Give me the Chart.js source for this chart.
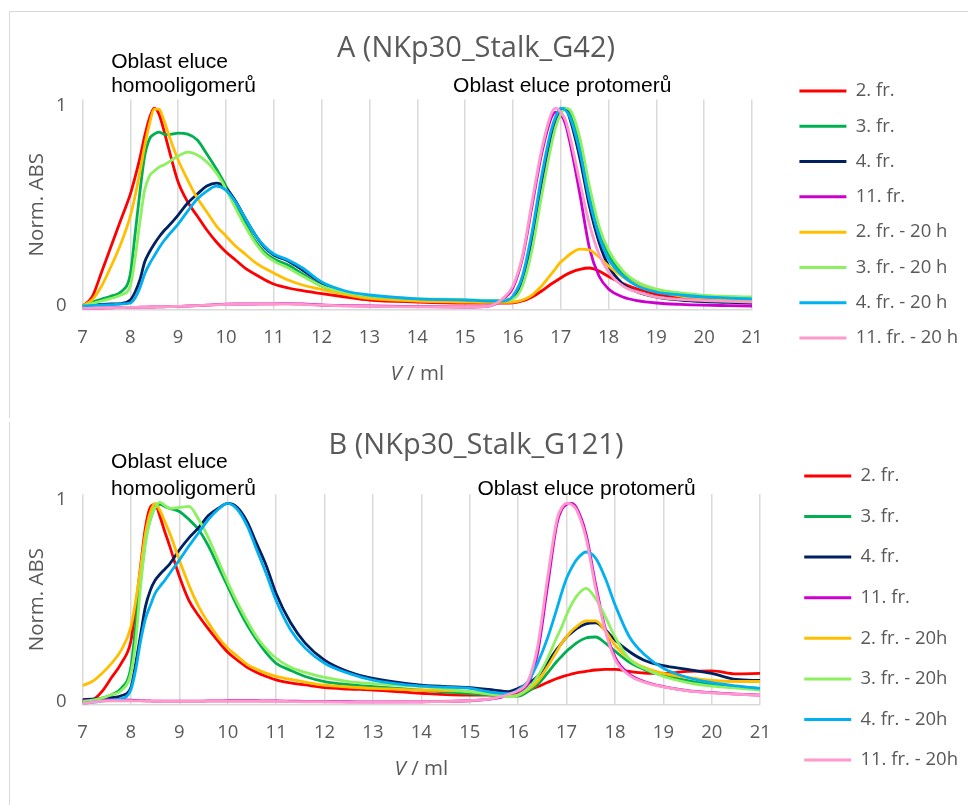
<!DOCTYPE html>
<html>
<head>
<meta charset="utf-8">
<script src="https://cdn.jsdelivr.net/npm/chart.js@4.4.1/dist/chart.umd.min.js"></script>
<style>
  html, body { margin: 0; padding: 0; background: #fff; overflow: hidden; }
  body { width: 968px; height: 805px; position: relative; }
  .frame { position: absolute; border-left: 1px solid #d9d9d9; }
  #frameA { left: 9px; top: 11px; width: 959px; height: 406px; border-top: 1px solid #d9d9d9; }
  #frameB { left: 9px; top: 422px; width: 959px; height: 383px; }
  canvas { position: absolute; left: -16px; }
  #chartA { top: 12px; }
  #chartB { top: 422px; }
</style>
</head>
<body>
<div class="frame" id="frameA"></div>
<div class="frame" id="frameB"></div>
<canvas id="chartA" width="984" height="405"></canvas>
<canvas id="chartB" width="984" height="383"></canvas>
<script>
const volumes = [7, 7.2, 7.4, 7.6, 7.8, 8.0, 8.1, 8.2, 8.3, 8.4, 8.5, 8.6, 8.7, 8.8,
  9.0, 9.2, 9.4, 9.6, 9.8, 10.0, 10.2, 10.4, 10.6, 10.8, 11.0, 11.3, 11.6, 12.0, 12.5, 13, 14,
  15, 15.5, 15.8, 16.0, 16.2, 16.4, 16.6, 16.8, 16.9, 17.0, 17.1, 17.2, 17.4, 17.6, 17.8,
  18.0, 18.3, 18.6, 19.0, 19.5, 20, 20.5, 21];

const yTicks = [0, 1];
const colors = ['#ff0000', '#00b050', '#002060', '#cc00cc', '#ffbf00', '#8cf060', '#00b0f0', '#ff99cc'];

// ---- A (NKp30_Stalk_G42) ----
const fractionsA = ['2. fr.', '3. fr.', '4. fr.', '11. fr.', '2. fr. - 20 h', '3. fr. - 20 h', '4. fr. - 20 h', '11. fr. - 20 h'];

const aFr2 = [0, 0.045, 0.17, 0.30, 0.43, 0.56, 0.645, 0.74, 0.85, 0.94, 0.99, 0.96, 0.88, 0.79,
  0.62, 0.52, 0.45, 0.38, 0.32, 0.27, 0.23, 0.19, 0.16, 0.133, 0.11, 0.09, 0.077, 0.062, 0.045, 0.03, 0.02,
  0.015, 0.015, 0.015, 0.016, 0.025, 0.045, 0.075, 0.11, 0.125, 0.14, 0.155, 0.167, 0.183, 0.19, 0.175,
  0.148, 0.112, 0.085, 0.06, 0.043, 0.032, 0.026, 0.022];
const aFr3 = [0, 0.02, 0.035, 0.05, 0.07, 0.16, 0.36, 0.57, 0.75, 0.835, 0.86, 0.87, 0.86, 0.858,
  0.865, 0.86, 0.83, 0.76, 0.685, 0.60, 0.51, 0.415, 0.33, 0.27, 0.235, 0.205, 0.16, 0.10, 0.065, 0.045, 0.032,
  0.028, 0.025, 0.028, 0.04, 0.12, 0.32, 0.60, 0.84, 0.93, 0.98, 0.99, 0.96, 0.80, 0.57, 0.38,
  0.26, 0.16, 0.11, 0.08, 0.06, 0.05, 0.045, 0.04];
const aFr4 = [0, 0.005, 0.008, 0.01, 0.012, 0.03, 0.07, 0.13, 0.22, 0.27, 0.31, 0.345, 0.375, 0.40,
  0.455, 0.515, 0.56, 0.60, 0.615, 0.59, 0.525, 0.44, 0.36, 0.295, 0.255, 0.225, 0.18, 0.115, 0.07, 0.05, 0.033,
  0.028, 0.025, 0.027, 0.04, 0.13, 0.34, 0.62, 0.86, 0.94, 0.985, 0.985, 0.93, 0.74, 0.50, 0.32,
  0.20, 0.11, 0.07, 0.045, 0.03, 0.022, 0.018, 0.015];
const aFr11 = [-0.012, -0.011, -0.01, -0.009, -0.008, -0.007, -0.007, -0.006, -0.006, -0.005, -0.005, -0.004, -0.004, -0.003,
  -0.002, 0, 0.002, 0.004, 0.007, 0.009, 0.01, 0.01, 0.01, 0.011, 0.011, 0.012, 0.01, 0.005, 0.002, 0, -0.003,
  -0.005, 0, 0.035, 0.09, 0.24, 0.50, 0.76, 0.94, 0.97, 0.96, 0.91, 0.81, 0.56, 0.29, 0.15,
  0.085, 0.045, 0.027, 0.015, 0.008, 0.004, 0.002, 0];
const aFr2h = [0, 0.03, 0.10, 0.20, 0.31, 0.45, 0.55, 0.67, 0.80, 0.91, 0.985, 0.985, 0.93, 0.86,
  0.73, 0.63, 0.54, 0.47, 0.40, 0.35, 0.30, 0.26, 0.22, 0.19, 0.165, 0.13, 0.105, 0.083, 0.058, 0.038, 0.025,
  0.02, 0.018, 0.018, 0.02, 0.03, 0.055, 0.10, 0.16, 0.19, 0.22, 0.24, 0.26, 0.285, 0.28, 0.245,
  0.20, 0.145, 0.105, 0.075, 0.05, 0.04, 0.034, 0.03];
const aFr3h = [0, 0.012, 0.025, 0.038, 0.055, 0.10, 0.24, 0.42, 0.58, 0.65, 0.675, 0.695, 0.705, 0.72,
  0.75, 0.77, 0.755, 0.72, 0.665, 0.585, 0.49, 0.40, 0.32, 0.26, 0.225, 0.19, 0.15, 0.10, 0.068, 0.05, 0.037,
  0.032, 0.028, 0.028, 0.035, 0.10, 0.28, 0.55, 0.80, 0.90, 0.96, 0.99, 0.98, 0.84, 0.60, 0.40,
  0.28, 0.175, 0.12, 0.085, 0.065, 0.053, 0.048, 0.045];
const aFr4h = [0, 0.003, 0.005, 0.007, 0.01, 0.015, 0.04, 0.09, 0.16, 0.21, 0.25, 0.29, 0.325, 0.355,
  0.41, 0.475, 0.535, 0.575, 0.60, 0.58, 0.52, 0.44, 0.36, 0.30, 0.26, 0.23, 0.19, 0.12, 0.075, 0.055, 0.036,
  0.03, 0.025, 0.025, 0.05, 0.15, 0.37, 0.65, 0.88, 0.95, 0.99, 0.98, 0.94, 0.77, 0.53, 0.35,
  0.235, 0.15, 0.10, 0.07, 0.055, 0.045, 0.04, 0.035];
const aFr11h = [-0.012, -0.011, -0.01, -0.009, -0.008, -0.007, -0.007, -0.006, -0.006, -0.005, -0.005, -0.004, -0.004, -0.003,
  -0.002, 0, 0.002, 0.004, 0.006, 0.008, 0.009, 0.01, 0.01, 0.01, 0.01, 0.01, 0.008, 0.004, 0, -0.002, -0.004,
  -0.005, 0, 0.04, 0.10, 0.25, 0.52, 0.78, 0.96, 0.99, 0.97, 0.93, 0.84, 0.62, 0.41, 0.26,
  0.17, 0.10, 0.07, 0.045, 0.033, 0.027, 0.023, 0.02];

// ---- B (NKp30_Stalk_G121) ----
const fractionsB = ['2. fr.', '3. fr.', '4. fr.', '11. fr.', '2. fr. - 20h', '3. fr. - 20h', '4. fr. - 20h', '11. fr. - 20h'];

const bFr2 = [0, 0.008, 0.05, 0.12, 0.19, 0.30, 0.47, 0.67, 0.86, 0.96, 0.975, 0.915, 0.84, 0.77,
  0.62, 0.50, 0.425, 0.36, 0.30, 0.245, 0.205, 0.17, 0.145, 0.125, 0.108, 0.093, 0.083, 0.07, 0.063, 0.058, 0.042,
  0.033, 0.033, 0.035, 0.04, 0.055, 0.074, 0.095, 0.115, 0.123, 0.13, 0.137, 0.143, 0.15, 0.157, 0.16,
  0.16, 0.15, 0.142, 0.14, 0.15, 0.153, 0.138, 0.14];
const bFr3 = [0.005, 0.01, 0.018, 0.035, 0.066, 0.17, 0.38, 0.60, 0.80, 0.90, 0.96, 0.975, 0.965, 0.955,
  0.94, 0.90, 0.85, 0.77, 0.67, 0.57, 0.47, 0.38, 0.305, 0.24, 0.19, 0.155, 0.125, 0.10, 0.085, 0.075, 0.058,
  0.04, 0.033, 0.03, 0.028, 0.05, 0.085, 0.14, 0.20, 0.225, 0.25, 0.27, 0.29, 0.315, 0.32, 0.29,
  0.25, 0.195, 0.16, 0.13, 0.105, 0.085, 0.075, 0.066];
const bFr4 = [0.01, 0.013, 0.016, 0.02, 0.03, 0.07, 0.19, 0.33, 0.47, 0.55, 0.60, 0.63, 0.655, 0.68,
  0.75, 0.81, 0.86, 0.92, 0.955, 0.98, 0.96, 0.89, 0.78, 0.67, 0.535, 0.39, 0.29, 0.206, 0.148, 0.115, 0.082,
  0.07, 0.058, 0.05, 0.066, 0.09, 0.125, 0.19, 0.26, 0.29, 0.32, 0.34, 0.36, 0.385, 0.39, 0.355,
  0.305, 0.247, 0.205, 0.178, 0.16, 0.14, 0.11, 0.105];
const bFr11 = [0.005, 0.008, 0.01, 0.01, 0.009, 0.008, 0.007, 0.006, 0.005, 0.004, 0.003, 0.003, 0.003, 0.003,
  0.003, 0.003, 0.003, 0.004, 0.004, 0.005, 0.005, 0.005, 0.005, 0.004, 0.004, 0.003, 0.002, 0.001, 0, -0.001, 0,
  0.005, 0.015, 0.033, 0.05, 0.085, 0.24, 0.56, 0.88, 0.95, 0.975, 0.98, 0.96, 0.83, 0.58, 0.36,
  0.22, 0.135, 0.10, 0.075, 0.055, 0.045, 0.038, 0.033];
const bFr2h = [0.08, 0.10, 0.14, 0.19, 0.255, 0.37, 0.50, 0.66, 0.83, 0.935, 0.98, 0.945, 0.89, 0.835,
  0.70, 0.575, 0.47, 0.39, 0.32, 0.265, 0.225, 0.185, 0.16, 0.14, 0.125, 0.11, 0.097, 0.082, 0.073, 0.066, 0.058,
  0.05, 0.035, 0.028, 0.033, 0.06, 0.10, 0.17, 0.25, 0.29, 0.32, 0.35, 0.37, 0.40, 0.40, 0.35,
  0.28, 0.21, 0.17, 0.14, 0.12, 0.105, 0.10, 0.10];
const bFr3h = [0, 0.008, 0.018, 0.035, 0.055, 0.14, 0.30, 0.57, 0.78, 0.90, 0.96, 0.985, 0.97, 0.955,
  0.96, 0.965, 0.90, 0.81, 0.70, 0.59, 0.49, 0.40, 0.32, 0.26, 0.215, 0.17, 0.145, 0.12, 0.10, 0.09, 0.075,
  0.05, 0.035, 0.025, 0.033, 0.065, 0.125, 0.21, 0.32, 0.37, 0.43, 0.48, 0.52, 0.56, 0.51, 0.42,
  0.32, 0.21, 0.165, 0.125, 0.095, 0.077, 0.067, 0.058];
const bFr4h = [-0.008, -0.003, 0.003, 0.008, 0.015, 0.06, 0.16, 0.30, 0.41, 0.475, 0.535, 0.57, 0.60, 0.634,
  0.70, 0.77, 0.835, 0.90, 0.95, 0.98, 0.95, 0.87, 0.75, 0.63, 0.50, 0.355, 0.265, 0.19, 0.14, 0.107, 0.077,
  0.066, 0.045, 0.04, 0.058, 0.10, 0.19, 0.31, 0.46, 0.54, 0.61, 0.66, 0.70, 0.74, 0.71, 0.61,
  0.48, 0.32, 0.235, 0.165, 0.12, 0.094, 0.078, 0.066];
const bFr11h = [-0.01, -0.002, 0.003, 0.005, 0.005, 0.005, 0.004, 0.004, 0.004, 0.003, 0.003, 0.003, 0.002, 0.002,
  0.002, 0.002, 0.002, 0.003, 0.003, 0.003, 0.003, 0.003, 0.003, 0.002, 0.002, 0.001, 0, -0.001, -0.002, -0.002, 0,
  0.006, 0.017, 0.037, 0.055, 0.10, 0.27, 0.60, 0.90, 0.96, 0.98, 0.975, 0.95, 0.81, 0.56, 0.35,
  0.21, 0.13, 0.097, 0.073, 0.054, 0.044, 0.037, 0.032];

const GREY = '#595959';
const SANS = '"Open Sans", sans-serif';

// region labels above the plot and the "V / ml" axis title
const panelText = {
  id: 'panelText',
  afterDraw(chart, args, opts) {
    const {ctx, chartArea} = chart;
    const x = chart.scales.x;
    ctx.save();
    ctx.fillStyle = '#000';
    ctx.font = '21px "Liberation Sans", Arial, sans-serif';
    ctx.textAlign = 'left';
    ctx.textBaseline = 'alphabetic';
    opts.regions.forEach(r => {
      r.lines.forEach((line, i) => {
        ctx.fillText(line, x.getPixelForValue(r.at), chartArea.top + r.dy[i]);
      });
    });

    const y = chartArea.bottom + 70;
    const cx = (chartArea.left + chartArea.right) / 2;
    ctx.fillStyle = GREY;
    ctx.font = 'italic 20.5px ' + SANS;
    const vW = ctx.measureText('V').width;
    ctx.font = '20.5px ' + SANS;
    const rest = ' / ml';
    const left = cx - (vW + ctx.measureText(rest).width) / 2;
    ctx.fillText(rest, left + vW, y);
    ctx.font = 'italic 20.5px ' + SANS;
    ctx.fillText('V', left, y);
    ctx.restore();
  }
};

function makePanel(id, p) {
  const datasets = p.series.map((data, i) => ({
    label: p.labels[i],
    data,
    borderColor: colors[i],
    backgroundColor: colors[i],
    borderWidth: 2.8,
    pointRadius: 0,
    pointBorderWidth: 3,
    pointBorderColor: colors[i],
    cubicInterpolationMode: 'monotone',
    order: p.series.length - i   // later series drawn on top, like the original
  }));

  return new Chart(document.getElementById(id), {
    type: 'line',
    data: { labels: volumes, datasets },
    plugins: [panelText],
    options: {
      responsive: false,
      animation: false,
      events: [],
      layout: { padding: { top: p.padTop, left: 0, right: 0, bottom: 0 } },
      scales: {
        x: {
          type: 'linear',
          min: 7,
          max: 21,
          afterFit: s => { s.height = p.xHeight; },
          ticks: { stepSize: 1, autoSkip: false, maxRotation: 0, padding: 16.9,
                   color: GREY, font: { family: SANS, size: 18.5 } },
          grid: { color: '#d9d9d9', lineWidth: 1.5, drawTicks: false },
          border: { color: '#d9d9d9', width: 1.5 }
        },
        y: {
          min: p.yMin,
          max: p.yMax,
          afterFit: s => { s.width = 98.5; },
          afterBuildTicks: s => { s.ticks = yTicks.map(v => ({ value: v })); },
          ticks: { padding: 16, color: GREY, font: { family: SANS, size: 18.5 } },
          grid: { display: false, drawTicks: false },
          border: { display: false },
          title: { display: true, text: 'Norm. ABS', color: GREY,
                   font: { family: SANS, size: 20.5 }, padding: { top: 40.7, bottom: 0 } }
        },
        // empty strip between the plot and the legend
        gap: {
          position: 'right',
          afterFit: s => { s.width = p.gap; },
          ticks: { display: false },
          grid: { display: false, drawTicks: false },
          border: { display: false }
        }
      },
      plugins: {
        tooltip: { enabled: false },
        title: {
          display: true,
          text: p.title,
          color: GREY,
          font: { family: SANS, size: 29, weight: 'normal', lineHeight: 1 },
          padding: p.titlePad
        },
        legend: {
          position: 'right',
          align: 'center',
          maxWidth: 400,
          labels: {
            usePointStyle: true,
            pointStyle: 'line',
            pointStyleWidth: 47,
            padding: p.legendPad,
            color: GREY,
            font: { family: SANS, size: 18.5 },
            sort: (a, b) => a.datasetIndex - b.datasetIndex
          }
        },
        panelText: { regions: p.regions }
      }
    }
  });
}

makePanel('chartA', {
  title: 'A (NKp30_Stalk_G42)',
  labels: fractionsA,
  series: [aFr2, aFr3, aFr4, aFr11, aFr2h, aFr3h, aFr4h, aFr11h],
  padTop: 0,
  titlePad: { top: 22.5, bottom: 36 },
  xHeight: 107,
  legendPad: 16.8,
  gap: 30.6,
  yMin: -0.02,
  yMax: 1.033,
  regions: [
    { lines: ['Oblast eluce', 'homooligomerů'], at: 7.6, dy: [-31.8, -7.8] },
    { lines: ['Oblast eluce protomerů'], at: 14.75, dy: [-7.8] }
  ]
});

makePanel('chartB', {
  title: 'B (NKp30_Stalk_G121)',
  labels: fractionsB,
  series: [bFr2, bFr3, bFr4, bFr11, bFr2h, bFr3h, bFr4h, bFr11h],
  padTop: 9,
  titlePad: { top: 0, bottom: 34.3 },
  xHeight: 100,
  legendPad: 22.1,
  gap: 21.9,
  yMin: -0.016,
  yMax: 1.025,
  regions: [
    { lines: ['Oblast eluce', 'homooligomerů'], at: 7.59, dy: [-26.6, 0.7] },
    { lines: ['Oblast eluce protomerů'], at: 15.16, dy: [0.7] }
  ]
});
</script>
</body>
</html>
